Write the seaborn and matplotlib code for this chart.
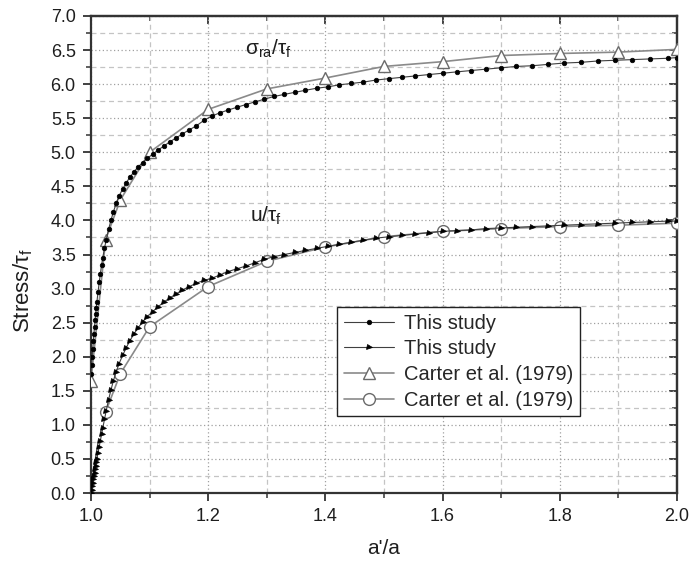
import numpy as np
import pandas as pd
import matplotlib
matplotlib.use("Agg")
import matplotlib.pyplot as plt
import seaborn as sns
from matplotlib.ticker import MultipleLocator

# ---- data ----
x_this = [1.000, 1.001, 1.002, 1.003, 1.004, 1.005, 1.006, 1.007, 1.008, 1.009,
          1.010, 1.012, 1.014, 1.016, 1.018, 1.020, 1.023, 1.026, 1.030, 1.034,
          1.038, 1.043, 1.048, 1.054, 1.060, 1.066, 1.073, 1.080, 1.088, 1.096,
          1.105, 1.114, 1.124, 1.134, 1.145, 1.156, 1.168, 1.180, 1.193, 1.206,
          1.220, 1.234, 1.249, 1.264, 1.280, 1.296, 1.313, 1.330, 1.348, 1.366,
          1.385, 1.404, 1.424, 1.444, 1.465, 1.486, 1.508, 1.530, 1.553, 1.576,
          1.600, 1.624, 1.649, 1.674, 1.700, 1.726, 1.753, 1.780, 1.808, 1.836,
          1.865, 1.894, 1.924, 1.954, 1.985, 2.000]
sigma_this = [1.75, 1.88, 2.00, 2.12, 2.23, 2.34, 2.44, 2.54, 2.63, 2.72,
              2.80, 2.95, 3.09, 3.22, 3.34, 3.45, 3.59, 3.72, 3.87, 4.00,
              4.12, 4.25, 4.36, 4.46, 4.55, 4.63, 4.71, 4.78, 4.85, 4.91,
              4.97, 5.03, 5.09, 5.15, 5.21, 5.27, 5.33, 5.39, 5.47, 5.53,
              5.58, 5.62, 5.66, 5.70, 5.74, 5.78, 5.82, 5.85, 5.88, 5.91,
              5.94, 5.96, 5.99, 6.01, 6.03, 6.06, 6.08, 6.10, 6.12, 6.14,
              6.16, 6.18, 6.20, 6.22, 6.24, 6.26, 6.27, 6.29, 6.31, 6.32,
              6.34, 6.35, 6.36, 6.37, 6.38, 6.39]
u_this = [0.00, 0.05, 0.10, 0.15, 0.20, 0.25, 0.30, 0.35, 0.40, 0.45,
          0.50, 0.59, 0.68, 0.77, 0.86, 0.95, 1.08, 1.21, 1.37, 1.51,
          1.64, 1.78, 1.90, 2.02, 2.13, 2.23, 2.33, 2.42, 2.51, 2.59,
          2.66, 2.73, 2.80, 2.86, 2.92, 2.98, 3.03, 3.08, 3.12, 3.15,
          3.20, 3.25, 3.29, 3.33, 3.38, 3.43, 3.47, 3.50, 3.53, 3.56,
          3.59, 3.62, 3.65, 3.68, 3.71, 3.74, 3.76, 3.78, 3.80, 3.82,
          3.84, 3.85, 3.86, 3.88, 3.89, 3.90, 3.91, 3.92, 3.93, 3.94,
          3.95, 3.96, 3.97, 3.98, 3.99, 3.99]

x_carter_sigma = [1.0, 1.025, 1.05, 1.1, 1.2, 1.3, 1.4, 1.5, 1.6, 1.7, 1.8, 1.9, 2.0]
sigma_carter = [1.65, 3.72, 4.30, 5.00, 5.63, 5.93, 6.09, 6.26, 6.33, 6.42, 6.45, 6.47, 6.51]
x_carter_u = [1.025, 1.05, 1.1, 1.2, 1.3, 1.4, 1.5, 1.6, 1.7, 1.8, 1.9, 2.0]
u_carter = [1.19, 1.75, 2.44, 3.03, 3.40, 3.61, 3.76, 3.84, 3.88, 3.91, 3.93, 3.96]

legend_labels = ["This study", "This study", "Carter et al. (1979)", "Carter et al. (1979)"]

# ---- style ----
sns.set_theme(style="ticks")
plt.rcParams["font.family"] = ["Liberation Sans", "DejaVu Sans"]
plt.rcParams["mathtext.fontset"] = "custom"
plt.rcParams["mathtext.rm"] = "Liberation Sans"
plt.rcParams["mathtext.it"] = "Liberation Sans:italic"
plt.rcParams["mathtext.default"] = "regular"

fig = plt.figure(figsize=(6.9, 5.62), dpi=100)
ax = fig.add_axes([91 / 690, 1 - 493 / 562, 586 / 690, 477 / 562])

axis_col = "#333333"
carter_col = "#8a8a8a"
text_col = "#1e1e1e"

sns.lineplot(x=x_this, y=sigma_this, ax=ax, sort=False, estimator=None,
             color="#404040", lw=0.8, marker="o", markersize=3.3,
             markerfacecolor="black", markeredgecolor="black", markeredgewidth=0.5,
             label=legend_labels[0], zorder=4)
sns.lineplot(x=x_this, y=u_this, ax=ax, sort=False, estimator=None,
             color="#404040", lw=0.8, marker=">", markersize=3.6,
             markerfacecolor="black", markeredgecolor="black", markeredgewidth=0.5,
             label=legend_labels[1], zorder=4)
sns.lineplot(x=x_carter_sigma, y=sigma_carter, ax=ax, sort=False, estimator=None,
             color=carter_col, lw=1.2, marker="^", markersize=9,
             markerfacecolor="white", markeredgecolor="#6a6a6a", markeredgewidth=1.0,
             label=legend_labels[2], zorder=3)
sns.lineplot(x=x_carter_u, y=u_carter, ax=ax, sort=False, estimator=None,
             color=carter_col, lw=1.2, marker="o", markersize=8.5,
             markerfacecolor="white", markeredgecolor="#6a6a6a", markeredgewidth=1.0,
             label=legend_labels[3], zorder=3)

ax.set_xlim(1.0, 2.0)
ax.set_ylim(0.0, 7.0)
ax.xaxis.set_major_locator(MultipleLocator(0.2))
ax.xaxis.set_minor_locator(MultipleLocator(0.1))
ax.yaxis.set_major_locator(MultipleLocator(0.5))
ax.yaxis.set_minor_locator(MultipleLocator(0.25))
ax.xaxis.set_major_formatter(matplotlib.ticker.FormatStrFormatter("%.1f"))
ax.yaxis.set_major_formatter(matplotlib.ticker.FormatStrFormatter("%.1f"))

ax.grid(which="major", linestyle=(0, (1, 2)), color="#a0a0a0", lw=0.9)
ax.grid(which="minor", linestyle=(0, (4, 3)), color="#c4c4c4", lw=0.9)
ax.set_axisbelow(True)

for s in ax.spines.values():
    s.set_visible(True)
    s.set_color(axis_col)
    s.set_linewidth(1.6)

ax.tick_params(which="major", direction="out", length=6, width=1.3, color=axis_col,
               labelsize=13, labelcolor=text_col, pad=5)
ax.tick_params(which="minor", direction="out", length=3.5, width=1.1, color=axis_col)

# top / right ticks pointing inward
secx = ax.secondary_xaxis("top")
secx.xaxis.set_major_locator(MultipleLocator(0.2))
secx.xaxis.set_minor_locator(MultipleLocator(0.1))
secx.tick_params(which="major", direction="in", length=6, width=1.3, color=axis_col, labeltop=False)
secx.tick_params(which="minor", direction="in", length=3.5, width=1.1, color=axis_col)
secx.spines["top"].set_linewidth(1.6)
secx.spines["top"].set_color(axis_col)
secy = ax.secondary_yaxis("right")
secy.yaxis.set_major_locator(MultipleLocator(0.5))
secy.yaxis.set_minor_locator(MultipleLocator(0.25))
secy.tick_params(which="major", direction="in", length=6, width=1.3, color=axis_col, labelright=False)
secy.tick_params(which="minor", direction="in", length=3.5, width=1.1, color=axis_col)
secy.spines["right"].set_linewidth(1.6)
secy.spines["right"].set_color(axis_col)

ax.set_xlabel("a'/a", fontsize=15, color=text_col, labelpad=10)
ax.set_ylabel(r"Stress/$\tau_f$", fontsize=16, color=text_col, labelpad=6)
ax.yaxis.set_label_coords(-0.095, 0.425)

ax.text(1.263, 6.43, r"$\sigma_{ra}/\tau_f$", fontsize=15, color=text_col,
        ha="left", va="baseline")
ax.text(1.272, 3.98, r"$u/\tau_f$", fontsize=15, color=text_col,
        ha="left", va="baseline")

leg = ax.legend(loc="lower left", bbox_to_anchor=(0.42, 0.161), fontsize=14.5,
                frameon=True, fancybox=False, framealpha=1, edgecolor="#222222",
                handlelength=2.5, labelspacing=0.33, borderpad=0.32, handletextpad=0.5,
                borderaxespad=0)
leg.get_frame().set_linewidth(1.0)

fig.savefig("out.png", dpi=100, facecolor="white")
